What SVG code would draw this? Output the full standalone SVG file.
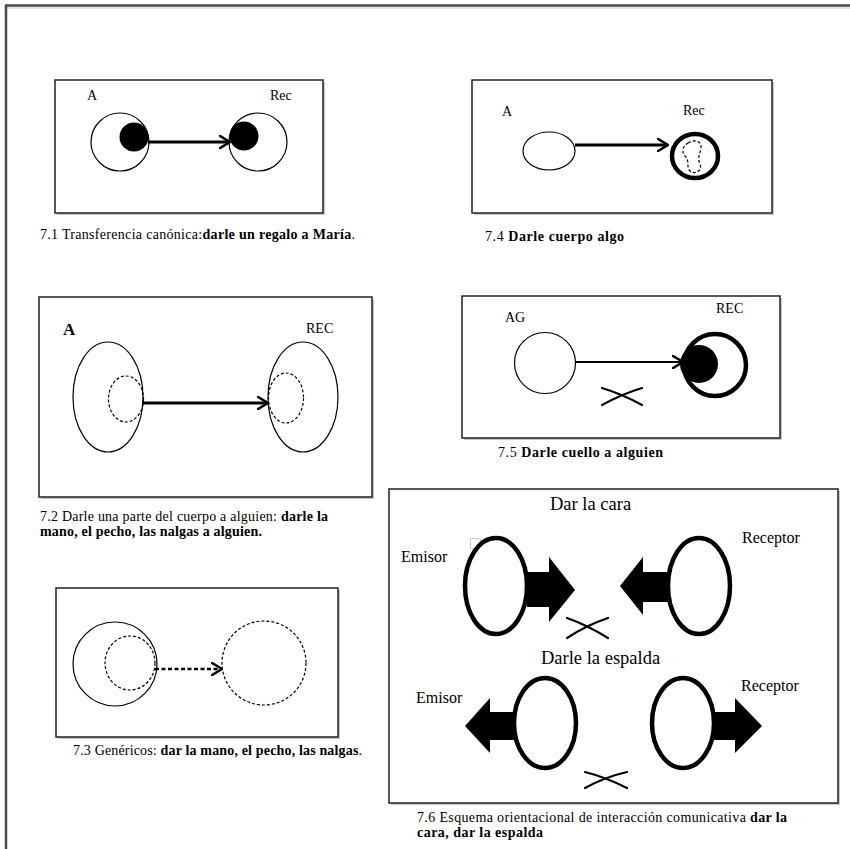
<svg xmlns="http://www.w3.org/2000/svg" width="850" height="849" viewBox="0 0 850 849">
  <style>
    text { font-family: "Liberation Serif", "Times New Roman", serif; fill: #000; }
    .lbl { font-size: 14px; }
    .cap { font-size: 14px; }
    .big { font-size: 18.5px; }
    .role { font-size: 16px; }
    .b { font-weight: bold; }
    .frame { fill: #fff; stroke: #222; stroke-width: 1.5; }
    .shadow { fill: #c8c8c8; }
    .thin { fill: #fff; stroke: #000; stroke-width: 1.2; }
    .dash { fill: none; stroke: #000; stroke-width: 1.2; stroke-dasharray: 3 2; }
    .thick { fill: #fff; stroke: #000; stroke-width: 4.5; }
    .solid { fill: #000; }
    .cross { fill: none; stroke: #000; stroke-width: 2.2; stroke-linecap: round; }
  </style>
  <defs>
    <marker id="chev" viewBox="0 0 12 14" refX="11" refY="7" markerWidth="12" markerHeight="14" markerUnits="userSpaceOnUse" orient="auto">
      <path d="M1,1 L11,7 L1,13" fill="none" stroke="#000" stroke-width="2.6" stroke-linecap="round" stroke-linejoin="round"/>
    </marker>
  </defs>

  <rect width="850" height="849" fill="#fff"/>

  <!-- page frame -->
  <g id="page">
    <line x1="5" y1="5.5" x2="850" y2="5.5" stroke="#4a4a4a" stroke-width="2.5"/>
    <line x1="4" y1="8" x2="850" y2="8" stroke="#d8d8d8" stroke-width="1.5"/>
    <line x1="6" y1="5" x2="6" y2="849" stroke="#4a4a4a" stroke-width="2.5"/>
  </g>

  <!-- panel frames -->
  <g id="frames">
    <rect class="shadow" x="57" y="82" width="268" height="133"/>
    <rect class="frame" x="55" y="80" width="268" height="133"/>
    <rect class="shadow" x="474" y="82" width="300" height="133"/>
    <rect class="frame" x="472" y="80" width="300" height="133"/>
    <rect class="shadow" x="41" y="299" width="333" height="200"/>
    <rect class="frame" x="39" y="297" width="333" height="200"/>
    <rect class="shadow" x="464" y="298" width="318" height="142"/>
    <rect class="frame" x="462" y="296" width="318" height="142"/>
    <rect class="shadow" x="58" y="590" width="282" height="149"/>
    <rect class="frame" x="56" y="588" width="282" height="149"/>
    <rect class="shadow" x="391" y="491" width="449" height="314"/>
    <rect class="frame" x="389" y="489" width="449" height="314"/>
  </g>

  <!-- 7.1 -->
  <g id="n71-agent">
    <text class="lbl" x="87" y="100">A</text>
    <circle class="thin" cx="120" cy="142" r="29"/>
    <circle class="solid" cx="134" cy="137" r="14.5"/>
  </g>
  <g id="n71-rec">
    <text class="lbl" x="270" y="100">Rec</text>
    <circle class="thin" cx="258" cy="142" r="29"/>
    <circle class="solid" cx="244" cy="136" r="14.5"/>
  </g>
  <text class="cap" x="40" y="239" textLength="315" lengthAdjust="spacing">7.1 Transferencia canónica:<tspan class="b">darle un regalo a María</tspan>.</text>

  <!-- 7.4 -->
  <g id="n74-agent">
    <text class="lbl" x="502" y="116">A</text>
    <ellipse class="thin" cx="549" cy="151" rx="26" ry="19"/>
  </g>
  <g id="n74-rec">
    <text class="lbl" x="683" y="115">Rec</text>
    <ellipse class="thick" cx="695" cy="156" rx="23" ry="22"/>
    <path class="dash" d="M688,143 C694,139 702,141 701,148 C700,154 697,158 700,164 C703,171 694,175 690,171 C686,167 690,160 685,156 C681,151 683,146 688,143Z"/>
  </g>
  <text class="cap" x="485" y="241" textLength="139" lengthAdjust="spacing">7.4 <tspan class="b">Darle cuerpo  algo</tspan></text>

  <!-- 7.2 -->
  <g id="n72-agent">
    <text x="63" y="335" font-size="17" class="b">A</text>
    <ellipse class="thin" cx="108" cy="397" rx="35" ry="55"/>
    <ellipse class="dash" cx="126" cy="399" rx="17.5" ry="23"/>
  </g>
  <g id="n72-rec">
    <text class="lbl" x="306" y="333">REC</text>
    <ellipse class="thin" cx="303" cy="397" rx="35" ry="55"/>
    <ellipse class="dash" cx="286" cy="398" rx="17.5" ry="25"/>
  </g>
  <text class="cap" x="40" y="521" textLength="288" lengthAdjust="spacing">7.2 Darle una parte del cuerpo a alguien: <tspan class="b">darle la</tspan></text>
  <text class="cap b" x="40" y="536" textLength="222" lengthAdjust="spacing">mano, el pecho, las nalgas a alguien.</text>

  <!-- 7.5 -->
  <g id="n75-agent">
    <text class="lbl" x="505" y="322">AG</text>
    <circle class="thin" cx="545" cy="363" r="30.5"/>
  </g>
  <g id="n75-rec">
    <text class="lbl" x="716" y="313">REC</text>
    <circle class="thick" cx="715" cy="365" r="31"/>
    <circle class="solid" cx="699" cy="364" r="19"/>
  </g>
  <text class="cap b" x="498" y="457" textLength="165" lengthAdjust="spacing"><tspan font-weight="normal">7.5</tspan> Darle cuello a alguien</text>

  <!-- 7.3 -->
  <g id="n73-agent">
    <circle class="thin" cx="115" cy="664" r="42"/>
    <ellipse class="dash" cx="130" cy="663" rx="25" ry="27"/>
  </g>
  <g id="n73-rec">
    <circle class="dash" cx="264" cy="663" r="42"/>
  </g>
  <text class="cap" x="73" y="755" textLength="289" lengthAdjust="spacing">7.3 Genéricos: <tspan class="b">dar la mano, el pecho, las nalgas</tspan>.</text>

  <!-- 7.6 -->
  <text class="big" x="550" y="510">Dar la cara</text>
  <text class="big" x="541" y="664">Darle la espalda</text>
  <rect x="470.5" y="538.5" width="10" height="10" fill="none" stroke="#ccc" stroke-width="1"/>
  <g id="n76-emisor-cara">
    <text class="role" x="401" y="562">Emisor</text>
    <ellipse class="thick" cx="496" cy="586" rx="31" ry="48"/>
    <path class="solid" d="M527,572 L549,572 L549,557 L575,590 L549,622 L549,607 L527,607 Z"/>
  </g>
  <g id="n76-receptor-cara">
    <text class="role" x="742" y="543">Receptor</text>
    <ellipse class="thick" cx="699" cy="586" rx="31" ry="48"/>
    <path class="solid" d="M670,572 L643,572 L643,557 L620,586 L643,615 L643,602 L670,602 Z"/>
  </g>
  <g id="n76-emisor-espalda">
    <text class="role" x="416" y="703">Emisor</text>
    <ellipse class="thick" cx="545" cy="723" rx="31" ry="45"/>
    <path class="solid" d="M515,712 L490,712 L490,698 L465,726 L490,753 L490,740 L515,740 Z"/>
  </g>
  <g id="n76-receptor-espalda">
    <text class="role" x="741" y="691">Receptor</text>
    <ellipse class="thick" cx="683" cy="723" rx="31" ry="45"/>
    <path class="solid" d="M713,712 L735,712 L735,698 L762,726 L735,753 L735,740 L713,740 Z"/>
  </g>
  <text class="cap" x="417" y="822" textLength="370" lengthAdjust="spacing">7.6 Esquema orientacional de interacción comunicativa <tspan class="b">dar la</tspan></text>
  <text class="cap b" x="417" y="837" textLength="126" lengthAdjust="spacing">cara, dar la espalda</text>

  <!-- connectors -->
  <g id="connectors">
    <line x1="148" y1="142" x2="230" y2="142" stroke="#000" stroke-width="3" marker-end="url(#chev)"/>
    <line x1="575" y1="145" x2="668" y2="145" stroke="#000" stroke-width="3" marker-end="url(#chev)"/>
    <line x1="143" y1="403" x2="268" y2="403" stroke="#000" stroke-width="3" marker-end="url(#chev)"/>
    <line x1="575" y1="362" x2="683" y2="362" stroke="#000" stroke-width="2" marker-end="url(#chev)"/>
    <line x1="155" y1="669" x2="222" y2="669" stroke="#000" stroke-width="2.5" stroke-dasharray="4 2.5" marker-end="url(#chev)"/>
    <!-- blocked-interaction crosses -->
    <path class="cross" d="M602,388 Q622,394 642,405 M602,405 Q622,394 642,388"/>
    <path class="cross" d="M567,618 Q587,625 608,638 M567,638 Q587,625 608,618"/>
    <path class="cross" d="M585,772 Q605,777 627,788 M585,788 Q605,777 627,772"/>
  </g>
</svg>
